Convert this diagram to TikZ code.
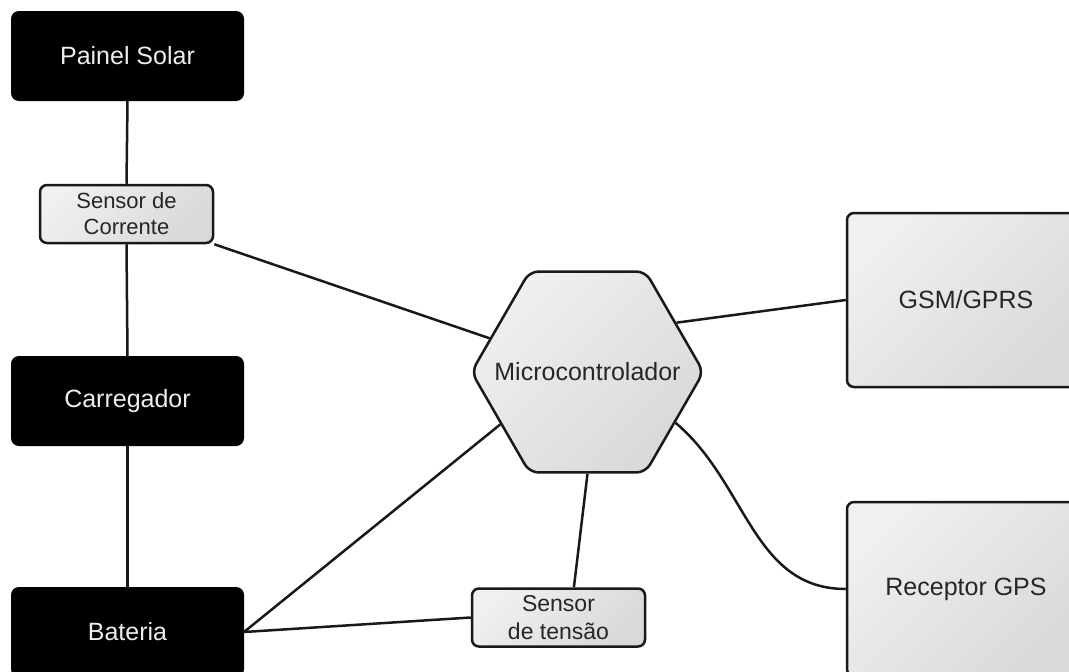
\documentclass[tikz,border=0pt]{standalone}
\usepackage{fontspec}
\setmainfont{Liberation Sans}
\usetikzlibrary{shapes.geometric}
\begin{document}
\begin{tikzpicture}[x=1pt,y=1pt,
  blackbox/.style={draw=black, fill=black, text=white!93!black, rounded corners=7pt,
    line width=2pt, minimum width=231pt, minimum height=88pt, inner sep=0pt,
    font=\fontsize{25}{30}\selectfont},
  graybox/.style={draw=black!90, top color=gray!12, bottom color=gray!30, shading angle=45,
    rounded corners=7pt, line width=2.5pt, inner sep=0pt, text=black!85,
    font=\fontsize{25}{30}\selectfont},
  smallbox/.style={graybox, minimum width=173pt, minimum height=58pt, align=center},
  hexbox/.style={graybox, regular polygon, regular polygon sides=6, minimum size=232pt,
    rounded corners=9pt},
  wire/.style={line width=2.5pt, draw=black!90}]
\clip (0,0) rectangle (1069,-672);
\fill[white] (0,0) rectangle (1069,-672);

\node[blackbox] (ps) at (127.5,-56) {Painel Solar};
\node[smallbox, font=\fontsize{22}{26}\selectfont] (sc) at (126.5,-214) {Sensor de\\Corrente};
\node[blackbox] (car) at (127.5,-401) {Carregador};
\node[blackbox] (bat) at (127.5,-632) {Bateria};
\node[hexbox] (mc) at (587.5,-372) {};
\node[text=black!85, font=\fontsize{25}{30}\selectfont] (mct) at (mc.center) {Microcontrolador};
\node[graybox, minimum width=238pt, minimum height=174pt] (gsm) at (966,-300) {GSM/GPRS};
\node[graybox, minimum width=238pt, minimum height=174pt] (gps) at (966,-589) {Receptor GPS};
\node[smallbox, font=\fontsize{23}{28}\selectfont] (st) at (558.5,-617.5) {Sensor\\de tensão};

\draw[wire] (ps.south) -- (sc.north);
\draw[wire] (sc.south) -- (car.north);
\draw[wire] (car.south) -- (bat.north);
\draw[wire] (sc.south east) -- (mc.161);
\draw[wire] (mc.29) -- (gsm.west);
\draw[wire] (mc.-30) to[out=-40, in=180] (gps.west);
\draw[wire] (bat.east) -- (mc.211);
\draw[wire] (bat.east) -- (st.west);
\draw[wire] (st.63) -- (mc.south);
\end{tikzpicture}
\end{document}
